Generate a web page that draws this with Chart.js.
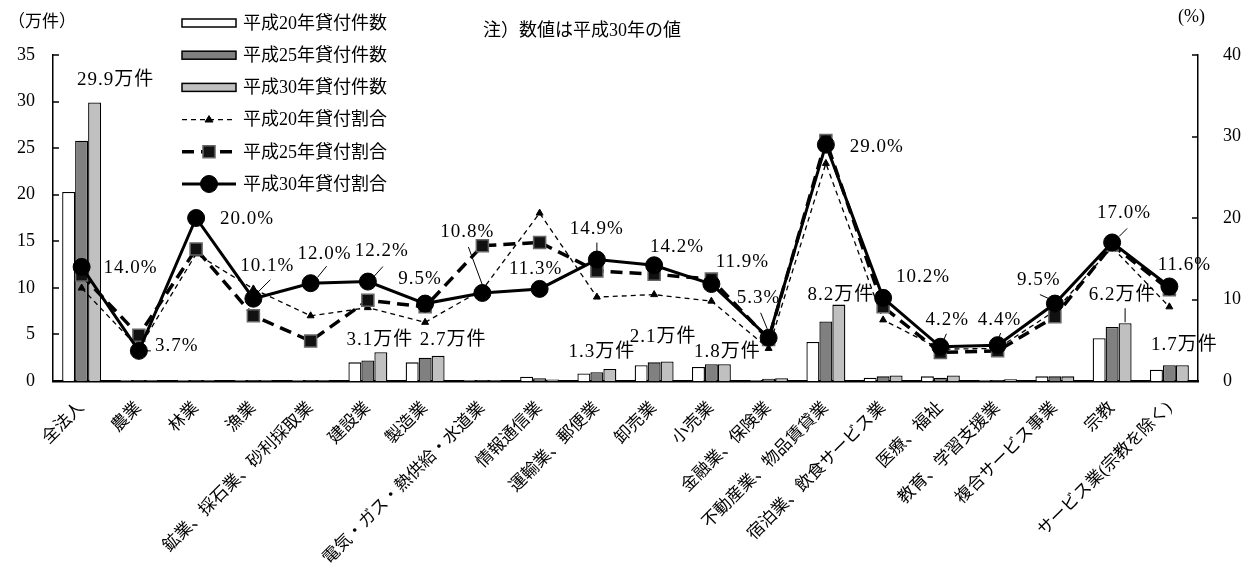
<!DOCTYPE html>
<html>
<head>
<meta charset="utf-8">
<script src="https://cdn.jsdelivr.net/npm/chart.js@4/dist/chart.umd.min.js"></script>
<style>
  body { margin: 0; background: #fff; }
  canvas { display: block; }
</style>
</head>
<body>
<canvas id="chart" width="1244" height="580"></canvas>
<script>
const FONT = "'Liberation Serif', 'Noto Sans CJK JP', serif";

// data
const categories = ['全法人', '農業', '林業', '漁業', '鉱業、採石業、砂利採取業', '建設業', '製造業',
  '電気・ガス・熱供給・水道業', '情報通信業', '運輸業、郵便業', '卸売業', '小売業', '金融業、保険業',
  '不動産業、物品賃貸業', '宿泊業、飲食サービス業', '医療、福祉', '教育、学習支援業', '複合サービス事業',
  '宗教', 'サービス業(宗教を除く)'];
const count20 = [20.3, 0.1, 0.1, 0.1, 0.1, 2.0, 2.0, 0.1, 0.45, 0.8, 1.7, 1.5, 0.1, 4.2, 0.35, 0.5, 0.1, 0.5, 4.6, 1.2];
const count25 = [25.8, 0.1, 0.1, 0.1, 0.1, 2.2, 2.5, 0.1, 0.3, 0.95, 2.0, 1.8, 0.25, 6.4, 0.5, 0.35, 0.1, 0.5, 5.8, 1.7];
const count30 = [29.9, 0.1, 0.1, 0.1, 0.1, 3.1, 2.7, 0.1, 0.15, 1.3, 2.1, 1.8, 0.3, 8.2, 0.6, 0.6, 0.2, 0.5, 6.2, 1.7];
const rate20 = [11.4, 4.0, 15.6, 11.3, 8.0, 9.0, 7.2, 11.2, 20.6, 10.3, 10.6, 9.8, 4.0, 26.7, 7.5, 3.9, 4.0, 8.6, 16.4, 9.1];
const rate25 = [13.0, 5.6, 16.2, 8.0, 4.9, 9.9, 9.1, 16.6, 17.0, 13.5, 13.1, 12.5, 5.1, 29.5, 9.1, 3.5, 3.7, 7.9, 16.7, 11.2];
const rate30 = [14.0, 3.7, 20.0, 10.1, 12.0, 12.2, 9.5, 10.8, 11.3, 14.9, 14.2, 11.9, 5.3, 29.0, 10.2, 4.2, 4.4, 9.5, 17.0, 11.6];
const countTicks = [0, 5, 10, 15, 20, 25, 30, 35];
const rateTicks = [0, 10, 20, 30, 40];
// which categories get a "万件" label
const countLabelIdx = [0, 5, 6, 9, 10, 11, 13, 18, 19];

// label placement (pixels, relative to the mark)
const rateLabelPos = [[49, 1], [38, -5], [51, 1], [14, -33], [14, -29], [14, -31], [-5, -25], [-15, -61],
  [-4, -20], [0, -31], [23, -18], [31, -22], [-10, -40], [51, 2], [40, -21], [7, -27], [2, -25],
  [-16, -24], [12, -29], [15, -21]];
const rateLeaders = { 1: [8, 0, 12, 0], 3: [4, -6, 17, -19], 4: [7, -6, 16, -17], 5: [6, -5, 15, -15],
  7: [-14, -46, 0, -8], 9: [0, -17, 0, -8], 12: [-8, -25, -1, -8], 15: [3, -6, 6, -13],
  16: [1, -7, 3, -12], 17: [-15, -9, -4, -4], 18: [7, -6, 15, -14] };
const countLabelPos = { 0: [21, -22], 5: [-1, -12], 6: [15, -16], 9: [-8, -17], 10: [-4, -24],
  11: [3, -12], 13: [2, -10], 18: [-3, -28], 19: [2, -20] };
const countLeaders = { 18: [0, -15, 0, -1] };

Chart.defaults.font.family = FONT;
Chart.defaults.color = '#000';

const inwardTicks = {
  id: 'inwardTicks',
  afterDraw(chart) {
    const ctx = chart.ctx;
    ctx.save();
    ctx.strokeStyle = '#000';
    ctx.lineWidth = 1.5;
    const yl = chart.scales.y, yr = chart.scales.y1;
    countTicks.forEach(v => {
      const p = Math.round(yl.getPixelForValue(v));
      ctx.beginPath(); ctx.moveTo(yl.right, p); ctx.lineTo(yl.right + 6, p); ctx.stroke();
    });
    rateTicks.forEach(v => {
      const p = Math.round(yr.getPixelForValue(v));
      ctx.beginPath(); ctx.moveTo(yr.left, p); ctx.lineTo(yr.left - 6, p); ctx.stroke();
    });
    ctx.restore();
  }
};

const annotations = {
  id: 'annotations',
  afterDatasetsDraw(chart) {
    const ctx = chart.ctx;
    const xs = chart.scales.x, yr = chart.scales.y1;
    const bars30 = chart.getDatasetMeta(2).data;
    ctx.save();
    ctx.fillStyle = '#000';
    ctx.strokeStyle = '#000';
    ctx.lineWidth = 1;
    ctx.font = '19px ' + FONT;
    ctx.letterSpacing = '1px';
    ctx.textAlign = 'center';
    ctx.textBaseline = 'middle';
    rate30.forEach((v, i) => {
      const px = xs.getPixelForValue(i), py = yr.getPixelForValue(v);
      ctx.fillText(v.toFixed(1) + '%', px + rateLabelPos[i][0], py + rateLabelPos[i][1]);
      const l = rateLeaders[i];
      if (l) {
        ctx.beginPath(); ctx.moveTo(px + l[0], py + l[1]); ctx.lineTo(px + l[2], py + l[3]); ctx.stroke();
      }
    });
    countLabelIdx.forEach(i => {
      const b = bars30[i];
      const o = countLabelPos[i];
      ctx.fillText(count30[i].toFixed(1) + '万件', b.x + o[0], b.y + o[1]);
      const l = countLeaders[i];
      if (l) {
        ctx.beginPath(); ctx.moveTo(b.x + l[0], b.y + l[1]); ctx.lineTo(b.x + l[2], b.y + l[3]); ctx.stroke();
      }
    });
    ctx.restore();
  }
};

const legendAndTitles = {
  id: 'legendAndTitles',
  afterDraw(chart) {
    const ctx = chart.ctx;
    ctx.save();
    ctx.fillStyle = '#000';
    ctx.textBaseline = 'middle';
    ctx.textAlign = 'left';
    ctx.font = '17px ' + FONT;
    ctx.fillText('（万件）', 8, 23);
    ctx.font = '18px ' + FONT;
    ctx.fillText('(%)', 1178, 17);
    ctx.fillText('注）数値は平成30年の値', 483, 31);

    const x0 = 182, x1 = 236, top = 23, gap = 32.2, cx = (x0 + x1) / 2;
    chart.data.datasets.forEach((ds, k) => {
      const y = top + k * gap;
      if (ds.type === 'bar') {
        ctx.fillStyle = ds.backgroundColor;
        ctx.fillRect(x0, y - 4, x1 - x0, 8);
        ctx.strokeStyle = '#000'; ctx.lineWidth = 1.5;
        ctx.strokeRect(x0, y - 4, x1 - x0, 8);
      } else {
        ctx.strokeStyle = '#000';
        ctx.lineWidth = ds.borderWidth;
        ctx.setLineDash(ds.borderDash || []);
        ctx.beginPath(); ctx.moveTo(x0, y); ctx.lineTo(x1, y); ctx.stroke();
        ctx.setLineDash([]);
        ctx.fillStyle = ds.pointBackgroundColor;
        ctx.strokeStyle = ds.pointBorderColor;
        ctx.beginPath();
        if (ds.pointStyle === 'circle') ctx.arc(cx, y, ds.pointRadius, 0, Math.PI * 2);
        else if (ds.pointStyle === 'rect') {
          const s = ds.pointRadius * Math.SQRT1_2;
          ctx.rect(cx - s, y - s, 2 * s, 2 * s);
        } else {
          const r = ds.pointRadius;
          ctx.moveTo(cx, y - r); ctx.lineTo(cx + r, y + r * 0.6);
          ctx.lineTo(cx - r, y + r * 0.6); ctx.closePath();
        }
        ctx.fill();
        ctx.lineWidth = ds.pointBorderWidth || 1; ctx.stroke();
      }
      ctx.fillStyle = '#000';
      ctx.fillText(ds.label, 243, y + 1);
    });
    ctx.restore();
  }
};

new Chart(document.getElementById('chart'), {
  data: {
    labels: categories,
    datasets: [
      { type: 'bar', label: '平成20年貸付件数', data: count20, yAxisID: 'y', backgroundColor: '#ffffff',
        borderColor: '#000', borderWidth: 1.3, order: 10 },
      { type: 'bar', label: '平成25年貸付件数', data: count25, yAxisID: 'y', backgroundColor: '#808080',
        borderColor: '#000', borderWidth: 1.3, order: 10 },
      { type: 'bar', label: '平成30年貸付件数', data: count30, yAxisID: 'y', backgroundColor: '#c0c0c0',
        borderColor: '#000', borderWidth: 1.3, order: 10 },
      { type: 'line', label: '平成20年貸付割合', data: rate20, yAxisID: 'y1', borderColor: '#000',
        borderWidth: 1.3, borderDash: [5, 4], pointStyle: 'triangle', pointRadius: 4,
        pointBackgroundColor: '#000', pointBorderColor: '#000', pointBorderWidth: 1, order: 3 },
      { type: 'line', label: '平成25年貸付割合', data: rate25, yAxisID: 'y1', borderColor: '#000',
        borderWidth: 3.5, borderDash: [12, 7], pointStyle: 'rect', pointRadius: 8.5,
        pointBackgroundColor: '#111', pointBorderColor: '#666', pointBorderWidth: 1.5, order: 2 },
      { type: 'line', label: '平成30年貸付割合', data: rate30, yAxisID: 'y1', borderColor: '#000',
        borderWidth: 3, pointStyle: 'circle', pointRadius: 8.5,
        pointBackgroundColor: '#000', pointBorderColor: '#000', pointBorderWidth: 1, order: 1 }
    ]
  },
  options: {
    responsive: false,
    animation: false,
    devicePixelRatio: 1,
    layout: { padding: { top: 55, left: 0, right: 0, bottom: 0 } },
    datasets: { bar: { categoryPercentage: 0.68, barPercentage: 1.0 } },
    plugins: { legend: { display: false }, tooltip: { enabled: false } },
    scales: {
      x: {
        grid: { display: false },
        border: { color: '#000', width: 2.5 },
        ticks: { autoSkip: false, minRotation: 45, maxRotation: 45, font: { size: 17 }, padding: 9 },
        afterFit(s) { s.height = 199; }
      },
      y: {
        position: 'left', min: 0, max: 35,
        afterBuildTicks(s) { s.ticks = countTicks.map(v => ({ value: v })); },
        grid: { display: false },
        border: { color: '#000', width: 1.5 },
        ticks: { font: { size: 18 }, padding: 10 },
        afterFit(s) { s.width = 53; }
      },
      y1: {
        position: 'right', min: 0, max: 40,
        afterBuildTicks(s) { s.ticks = rateTicks.map(v => ({ value: v })); },
        grid: { display: false },
        border: { color: '#000', width: 1.5 },
        ticks: { font: { size: 18 }, padding: 17 },
        afterFit(s) { s.width = 46; }
      }
    }
  },
  plugins: [inwardTicks, annotations, legendAndTitles]
});
</script>
</body>
</html>
